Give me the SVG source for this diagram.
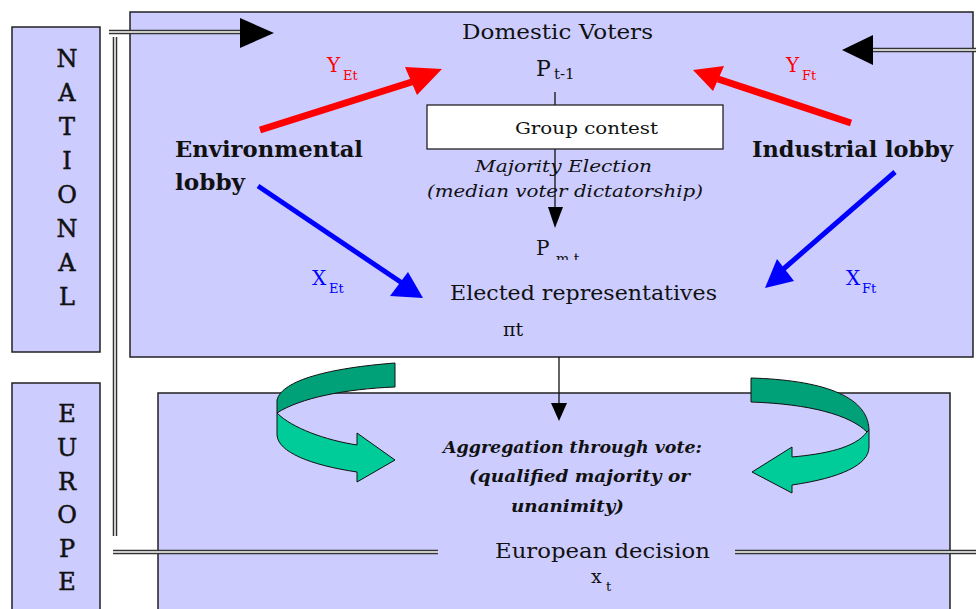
<svg xmlns="http://www.w3.org/2000/svg" width="976" height="609" viewBox="0 0 976 609">
<style>
.box{fill:#CCCCFF;stroke:#222;stroke-width:1.5}
.t{font-family:"DejaVu Serif","Liberation Serif",serif;fill:#111}
.hv{stroke:#111;stroke-width:0.5}
.b{font-weight:bold}
.i{font-style:italic}
.red{fill:#FF0000}
.blue{fill:#0000FF}
.dblo{stroke:#333;stroke-width:4.5;fill:none}
.dbli{stroke:#fff;stroke-width:1.5;fill:none}
.thin{stroke:#111;stroke-width:1.3;fill:none}
.dark{fill:#00A078;stroke:#111;stroke-width:1}
.light{fill:#00CC99;stroke:#111;stroke-width:1}
</style>
<defs>
<clipPath id="clipPm"><rect x="550" y="230" width="40" height="30"/></clipPath>
</defs>
<rect width="976" height="609" fill="#fff"/>
<g id="national-label">
<rect class="box" x="12" y="27" width="88" height="325"/>
<g class="t hv" font-size="24" text-anchor="middle">
<text x="67" y="67">N</text><text x="67" y="101">A</text><text x="67" y="135">T</text><text x="67" y="169">I</text>
<text x="67" y="203">O</text><text x="67" y="237">N</text><text x="67" y="271">A</text><text x="67" y="305">L</text>
</g>
</g>
<g id="europe-label">
<rect class="box" x="12" y="383" width="88" height="240"/>
<g class="t hv" font-size="24" text-anchor="middle">
<text x="67" y="422">E</text><text x="67" y="456">U</text><text x="67" y="490">R</text><text x="67" y="523">O</text><text x="67" y="557">P</text><text x="67" y="590">E</text>
</g>
</g>
<g id="national-box">
<rect class="box" x="130" y="12" width="843" height="345"/>
</g>
<g id="europe-box">
<rect class="box" x="158" y="393" width="792" height="230"/>
</g>
<g id="connectors">
<path class="dblo" d="M109 32H242M115 37V536M873 50H976M113 552H438M735 552H976"/>
<path class="dbli" d="M109 32H242M115 37V536M873 50H976M113 552H438M735 552H976"/>
<polygon points="240,18 274,33 240,48" fill="#000"/>
<polygon points="873,35 842,50 873,65" fill="#000"/>
<line x1="260" y1="130" x2="418" y2="80" stroke="#FF0000" stroke-width="7"/>
<polygon class="red" points="405,67 442,69 417,95"/>
<line x1="851" y1="123" x2="718" y2="79" stroke="#FF0000" stroke-width="7"/>
<polygon class="red" points="724,66 693,70 713,91"/>
<line x1="258" y1="186" x2="405" y2="285" stroke="#0000FF" stroke-width="5"/>
<polygon class="blue" points="390,296 423,298 408,272"/>
<line x1="895" y1="172" x2="780" y2="272" stroke="#0000FF" stroke-width="5"/>
<polygon class="blue" points="777,259 765,288 794,281"/>
<path class="thin" d="M555 92V105M555 149V210M559 357V405"/>
<polygon points="548,207 563,207 555,228" fill="#000"/>
<polygon points="551,403 567,403 559,421" fill="#000"/>
<path class="dark" d="M395 363C330 368 282 380 277 400L277 413C300 398 345 389 395 387Z"/>
<path class="light" d="M277 413C292 428 325 440 357 445L357 433L395 460L357 482L357 472C310 465 278 452 277 435Z"/>
<path class="dark" d="M751 378C820 380 868 395 869 430L867 432C850 415 810 404 751 402Z"/>
<path class="light" d="M867 432C855 448 825 454 792 457L792 447L752 472L792 493L792 485C840 478 869 465 869 447L869 430Z"/>
</g>
<g id="domestic-voters">
<text class="t" x="462" y="39" font-size="21" textLength="191" lengthAdjust="spacingAndGlyphs">Domestic Voters</text>
<text class="t" x="536" y="76" font-size="22">P</text>
<text class="t" x="554" y="79" font-size="15">t-1</text>
</g>
<g id="group-contest">
<rect x="427" y="105" width="296" height="44" fill="#fff" stroke="#222" stroke-width="1.3"/>
<text class="t" x="515" y="134" font-size="17" textLength="143" lengthAdjust="spacingAndGlyphs">Group contest</text>
</g>
<g id="majority-election">
<text class="t i" x="475" y="172" font-size="17" textLength="177" lengthAdjust="spacingAndGlyphs">Majority Election</text>
<text class="t i" x="427" y="197" font-size="17" textLength="276" lengthAdjust="spacingAndGlyphs">(median voter dictatorship)</text>
</g>
<g id="pmt">
<text class="t" x="536" y="255" font-size="20">P</text>
<text class="t" x="556" y="264" font-size="14" clip-path="url(#clipPm)">m t</text>
</g>
<g id="elected-representatives">
<text class="t" x="450" y="300" font-size="21" textLength="267" lengthAdjust="spacingAndGlyphs">Elected representatives</text>
<text class="t" x="503" y="336" font-size="19">πt</text>
</g>
<g id="environmental-lobby">
<text class="t b" x="175" y="157" font-size="22" textLength="188" lengthAdjust="spacingAndGlyphs">Environmental</text>
<text class="t b" x="175" y="190" font-size="22" textLength="70" lengthAdjust="spacingAndGlyphs">lobby</text>
</g>
<g id="industrial-lobby">
<text class="t b" x="752" y="157" font-size="22" textLength="201" lengthAdjust="spacingAndGlyphs">Industrial lobby</text>
</g>
<g id="labels">
<text class="t" x="327" y="72" font-size="20" style="fill:#FF0000">Y</text>
<text class="t" x="343" y="80" font-size="13" style="fill:#FF0000">Et</text>
<text class="t" x="786" y="72" font-size="20" style="fill:#FF0000">Y</text>
<text class="t" x="802" y="80" font-size="13" style="fill:#FF0000">Ft</text>
<text class="t" x="312" y="285" font-size="20" style="fill:#0000FF">X</text>
<text class="t" x="329" y="293" font-size="13" style="fill:#0000FF">Et</text>
<text class="t" x="846" y="285" font-size="20" style="fill:#0000FF">X</text>
<text class="t" x="862" y="293" font-size="13" style="fill:#0000FF">Ft</text>
</g>
<g id="aggregation">
<text class="t b i" x="443" y="453" font-size="17" textLength="259" lengthAdjust="spacingAndGlyphs">Aggregation through vote:</text>
<text class="t b i" x="469" y="482" font-size="17" textLength="221" lengthAdjust="spacingAndGlyphs">(qualified majority or</text>
<text class="t b i" x="511" y="512" font-size="17" textLength="113" lengthAdjust="spacingAndGlyphs">unanimity)</text>
</g>
<g id="european-decision">
<text class="t" x="495" y="558" font-size="21" textLength="215" lengthAdjust="spacingAndGlyphs">European decision</text>
<text class="t" x="591" y="583" font-size="19">x</text>
<text class="t" x="606" y="591" font-size="13">t</text>
</g>
</svg>
